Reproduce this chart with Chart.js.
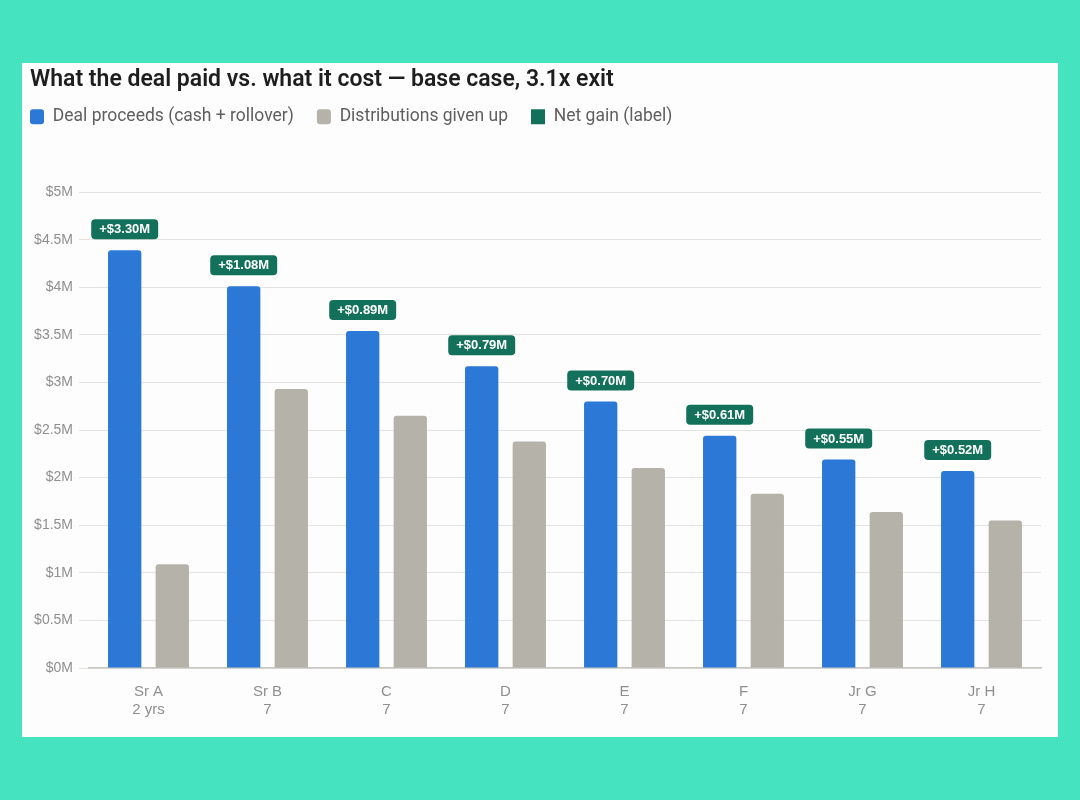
<!DOCTYPE html>
<html>
<head>
<meta charset="utf-8">
<script src="https://cdn.jsdelivr.net/npm/chart.js@4/dist/chart.umd.min.js"></script>
<style>
  html, body { margin: 0; padding: 0; }
  body { width: 1080px; height: 800px; background: #45e3bf; position: relative; overflow: hidden; }
  #card { position: absolute; left: 22px; top: 63px; width: 1036px; height: 674px; background: #fdfdfd; }
</style>
</head>
<body>
<div id="card"><canvas id="chart" width="1036" height="674"></canvas></div>
<script>
// values in $M
const categories = ['Sr A', 'Sr B', 'C', 'D', 'E', 'F', 'Jr G', 'Jr H'];
const subLabels = ['2 yrs', '7', '7', '7', '7', '7', '7', '7'];
const dealProceeds = [4.39, 4.01, 3.54, 3.17, 2.80, 2.44, 2.19, 2.07];
const distributionsGivenUp = [1.09, 2.93, 2.65, 2.38, 2.10, 1.83, 1.64, 1.55];
const netGainLabels = ['+$3.30M', '+$1.08M', '+$0.89M', '+$0.79M', '+$0.70M', '+$0.61M', '+$0.55M', '+$0.52M'];
const yTicks = [0, 0.5, 1, 1.5, 2, 2.5, 3, 3.5, 4, 4.5, 5];

const BLUE = '#2b78d6';
const GRAY = '#b5b2aa';
const GREEN = '#13705a';
const TICK_FONT = '"Liberation Sans", Arial, sans-serif';
const TEXT_FONT = 'Roboto, "Liberation Sans", sans-serif';

const labels = categories.map((c, i) => [c, subLabels[i]]);

// legend: extra room under it, and nudge it back to the left edge
const legendTweaks = {
    id: 'legendTweaks',
    beforeInit(chart) {
        const legend = chart.legend;
        const fit = legend.fit;
        legend.fit = function () {
            fit.call(this);
            this.height += 48;
        };
        const draw = legend.draw;
        legend.draw = function () {
            const c = this.ctx;
            c.save();
            c.translate(-23, -8.5);
            draw.apply(this, arguments);
            c.restore();
        };
    }
};

// green pills above the blue bars
const netGainPills = {
    id: 'netGainPills',
    afterDatasetsDraw(chart) {
        const ctx = chart.ctx;
        const meta = chart.getDatasetMeta(0);
        ctx.save();
        ctx.font = 'bold 13px ' + TICK_FONT;
        ctx.textAlign = 'center';
        ctx.textBaseline = 'middle';
        meta.data.forEach((bar, i) => {
            const text = netGainLabels[i];
            const w = ctx.measureText(text).width + 16;
            const h = 20;
            const x = bar.x - w / 2;
            const y = bar.y - 11 - h;
            ctx.fillStyle = GREEN;
            ctx.beginPath();
            ctx.roundRect(x, y, w, h, 4);
            ctx.fill();
            ctx.fillStyle = '#ffffff';
            ctx.fillText(text, bar.x, y + h / 2 + 0.5);
        });
        ctx.restore();
    }
};

const ctx = document.getElementById('chart').getContext('2d');

new Chart(ctx, {
    type: 'bar',
    data: {
        labels: labels,
        datasets: [
            {
                label: 'Deal proceeds (cash + rollover)',
                data: dealProceeds,
                backgroundColor: BLUE,
                borderRadius: 3,
                borderSkipped: 'bottom'
            },
            {
                label: 'Distributions given up',
                data: distributionsGivenUp,
                backgroundColor: GRAY,
                borderRadius: 3,
                borderSkipped: 'bottom'
            }
        ]
    },
    options: {
        responsive: false,
        animation: false,
        devicePixelRatio: 1,
        layout: { padding: { left: 8, right: 17, top: 3, bottom: 11 } },
        datasets: {
            bar: { categoryPercentage: 0.8, barPercentage: 0.7 }
        },
        plugins: {
            tooltip: { enabled: false },
            title: {
                display: true,
                text: 'What the deal paid vs. what it cost \u2014 base case, 3.1x exit',
                align: 'start',
                color: '#1e1e1e',
                font: { family: TEXT_FONT, size: 23, weight: '600' },
                padding: { top: 0, bottom: 0 }
            },
            legend: {
                display: true,
                align: 'start',
                labels: {
                    color: '#5f5f5f',
                    font: { family: TEXT_FONT, size: 17.5 },
                    boxWidth: 14,
                    boxHeight: 15,
                    useBorderRadius: true,
                    borderRadius: 3,
                    padding: 23,
                    generateLabels(chart) {
                        const items = Chart.defaults.plugins.legend.labels.generateLabels(chart);
                        items.push({
                            text: 'Net gain (label)',
                            fillStyle: GREEN,
                            strokeStyle: GREEN,
                            hidden: false,
                            datasetIndex: -1
                        });
                        items.forEach(it => { it.lineWidth = 0; it.fontColor = '#5f5f5f'; });
                        return items;
                    }
                },
                onClick() {}
            }
        },
        scales: {
            x: {
                grid: { display: false },
                border: { color: '#c8c6c0', width: 1.5 },
                ticks: {
                    color: '#8f8f8f',
                    font: { family: TICK_FONT, size: 15 },
                    padding: 7
                }
            },
            y: {
                min: 0,
                max: 5,
                afterBuildTicks(axis) {
                    axis.ticks = yTicks.map(v => ({ value: v }));
                },
                afterFit(axis) {
                    axis.width = 59;
                },
                grid: { color: '#e4e3e0', tickLength: 10, lineWidth: 1 },
                border: { display: false },
                ticks: {
                    color: '#8f8f8f',
                    font: { family: TICK_FONT, size: 14 },
                    padding: 6,
                    callback: v => '$' + v + 'M'
                }
            }
        }
    },
    plugins: [legendTweaks, netGainPills]
});
</script>
</body>
</html>
